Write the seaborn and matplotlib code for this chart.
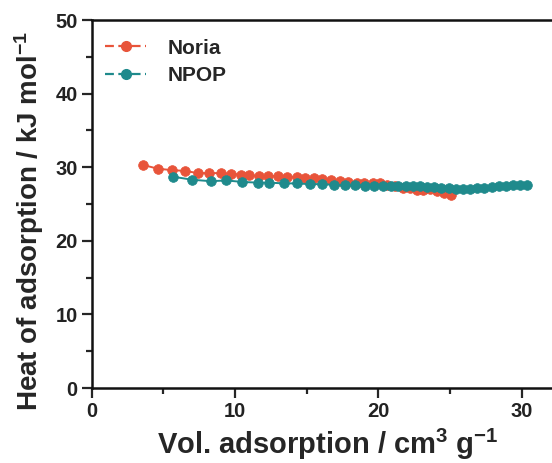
import numpy as np
import pandas as pd
import matplotlib
matplotlib.use("Agg")
import matplotlib.pyplot as plt
import seaborn as sns
from matplotlib.ticker import MultipleLocator
from matplotlib.lines import Line2D

noria_x = [3.6, 4.6, 5.6, 6.5, 7.4, 8.2, 9.0, 9.7, 10.4, 11.0, 11.7, 12.3, 13.0, 13.6,
           14.3, 14.9, 15.5, 16.1, 16.7, 17.3, 17.9, 18.5, 19.0, 19.6, 20.1, 20.6, 21.2,
           21.7, 22.2, 22.7, 23.1, 23.6, 24.1, 24.6, 25.1]
noria_y = [30.3, 29.8, 29.6, 29.5, 29.2, 29.2, 29.2, 29.1, 29.0, 28.9, 28.8, 28.8, 28.8, 28.7,
           28.7, 28.6, 28.5, 28.4, 28.2, 28.1, 28.0, 27.9, 27.8, 27.8, 27.8, 27.6, 27.4,
           27.2, 27.2, 26.9, 26.9, 27.0, 26.7, 26.5, 26.2]
npop_x = [5.7, 7.0, 8.3, 9.4, 10.5, 11.6, 12.4, 13.4, 14.3, 15.2, 16.1, 16.9, 17.7, 18.4,
          19.1, 19.7, 20.3, 20.9, 21.4, 21.9, 22.4, 22.9, 23.4, 23.9, 24.4, 24.9, 25.4,
          25.9, 26.4, 26.9, 27.4, 27.9, 28.4, 28.9, 29.4, 29.9, 30.4]
npop_y = [28.7, 28.3, 28.1, 28.2, 28.0, 27.9, 27.9, 27.8, 27.8, 27.7, 27.7, 27.6, 27.6, 27.6,
          27.5, 27.5, 27.5, 27.5, 27.5, 27.5, 27.4, 27.4, 27.3, 27.3, 27.2, 27.2, 27.1,
          27.1, 27.1, 27.2, 27.2, 27.3, 27.4, 27.5, 27.6, 27.6, 27.6]
series = ["Noria", "NPOP"]
colors = {"Noria": "#E8543A", "NPOP": "#1F8A8C"}

df = pd.concat([
    pd.DataFrame({"x": noria_x, "y": noria_y, "s": "Noria"}),
    pd.DataFrame({"x": npop_x, "y": npop_y, "s": "NPOP"}),
])

sns.set_style("ticks")
plt.rcParams["font.family"] = ["Liberation Sans", "DejaVu Sans"]
plt.rcParams["font.weight"] = "bold"
plt.rcParams["mathtext.fontset"] = "custom"
plt.rcParams["mathtext.rm"] = "Liberation Sans:bold"
plt.rcParams["mathtext.bf"] = "Liberation Sans:bold"
plt.rcParams["mathtext.default"] = "bf"

fig = plt.figure(figsize=(5.52, 4.63), dpi=100)
ax = fig.add_axes([91.7 / 552, 1 - 388 / 463, (33 * 14.33) / 552, (388 - 20) / 463])

for s in series:
    sub = df[df["s"] == s]
    sns.lineplot(data=sub, x="x", y="y", ax=ax, color=colors[s], marker="o",
                 markersize=7, markeredgecolor=colors[s], markeredgewidth=0.5,
                 linewidth=1.4, sort=False, estimator=None, legend=False)

ax.set_xlim(0, 33)
ax.set_ylim(0, 50)
ax.xaxis.set_major_locator(MultipleLocator(10))
ax.xaxis.set_minor_locator(MultipleLocator(5))
ax.yaxis.set_major_locator(MultipleLocator(10))
ax.yaxis.set_minor_locator(MultipleLocator(5))
ax.tick_params(which="major", direction="out", length=7, width=1.6, labelsize=14.5, pad=3)
ax.tick_params(which="minor", direction="out", length=4, width=1.6)
for lab in ax.get_xticklabels() + ax.get_yticklabels():
    lab.set_fontweight("bold")
    lab.set_color("#222222")
for sp in ["left", "bottom", "top"]:
    ax.spines[sp].set_linewidth(1.8)
    ax.spines[sp].set_color("#111111")
ax.spines["right"].set_visible(False)

ax.set_xlabel("Vol. adsorption / cm$^{3}$ g$^{-1}$", fontsize=21, fontweight="bold", labelpad=4)
ax.set_ylabel("Heat of adsorption / kJ mol$^{-1}$", fontsize=20, fontweight="bold", labelpad=4)
ax.yaxis.set_label_coords(-0.097, 0.455)

handles = [Line2D([0], [0], color=colors[s], marker="o", markersize=7,
                  linestyle=(0, (4, 2)), linewidth=1.6) for s in series]
ax.legend(handles, series, loc="upper left", bbox_to_anchor=(-0.012, 1.0), frameon=False,
          prop={"weight": "bold", "size": 15}, handlelength=2.0,
          handletextpad=1.0, labelspacing=0.4)

fig.savefig("out.png", dpi=100)
